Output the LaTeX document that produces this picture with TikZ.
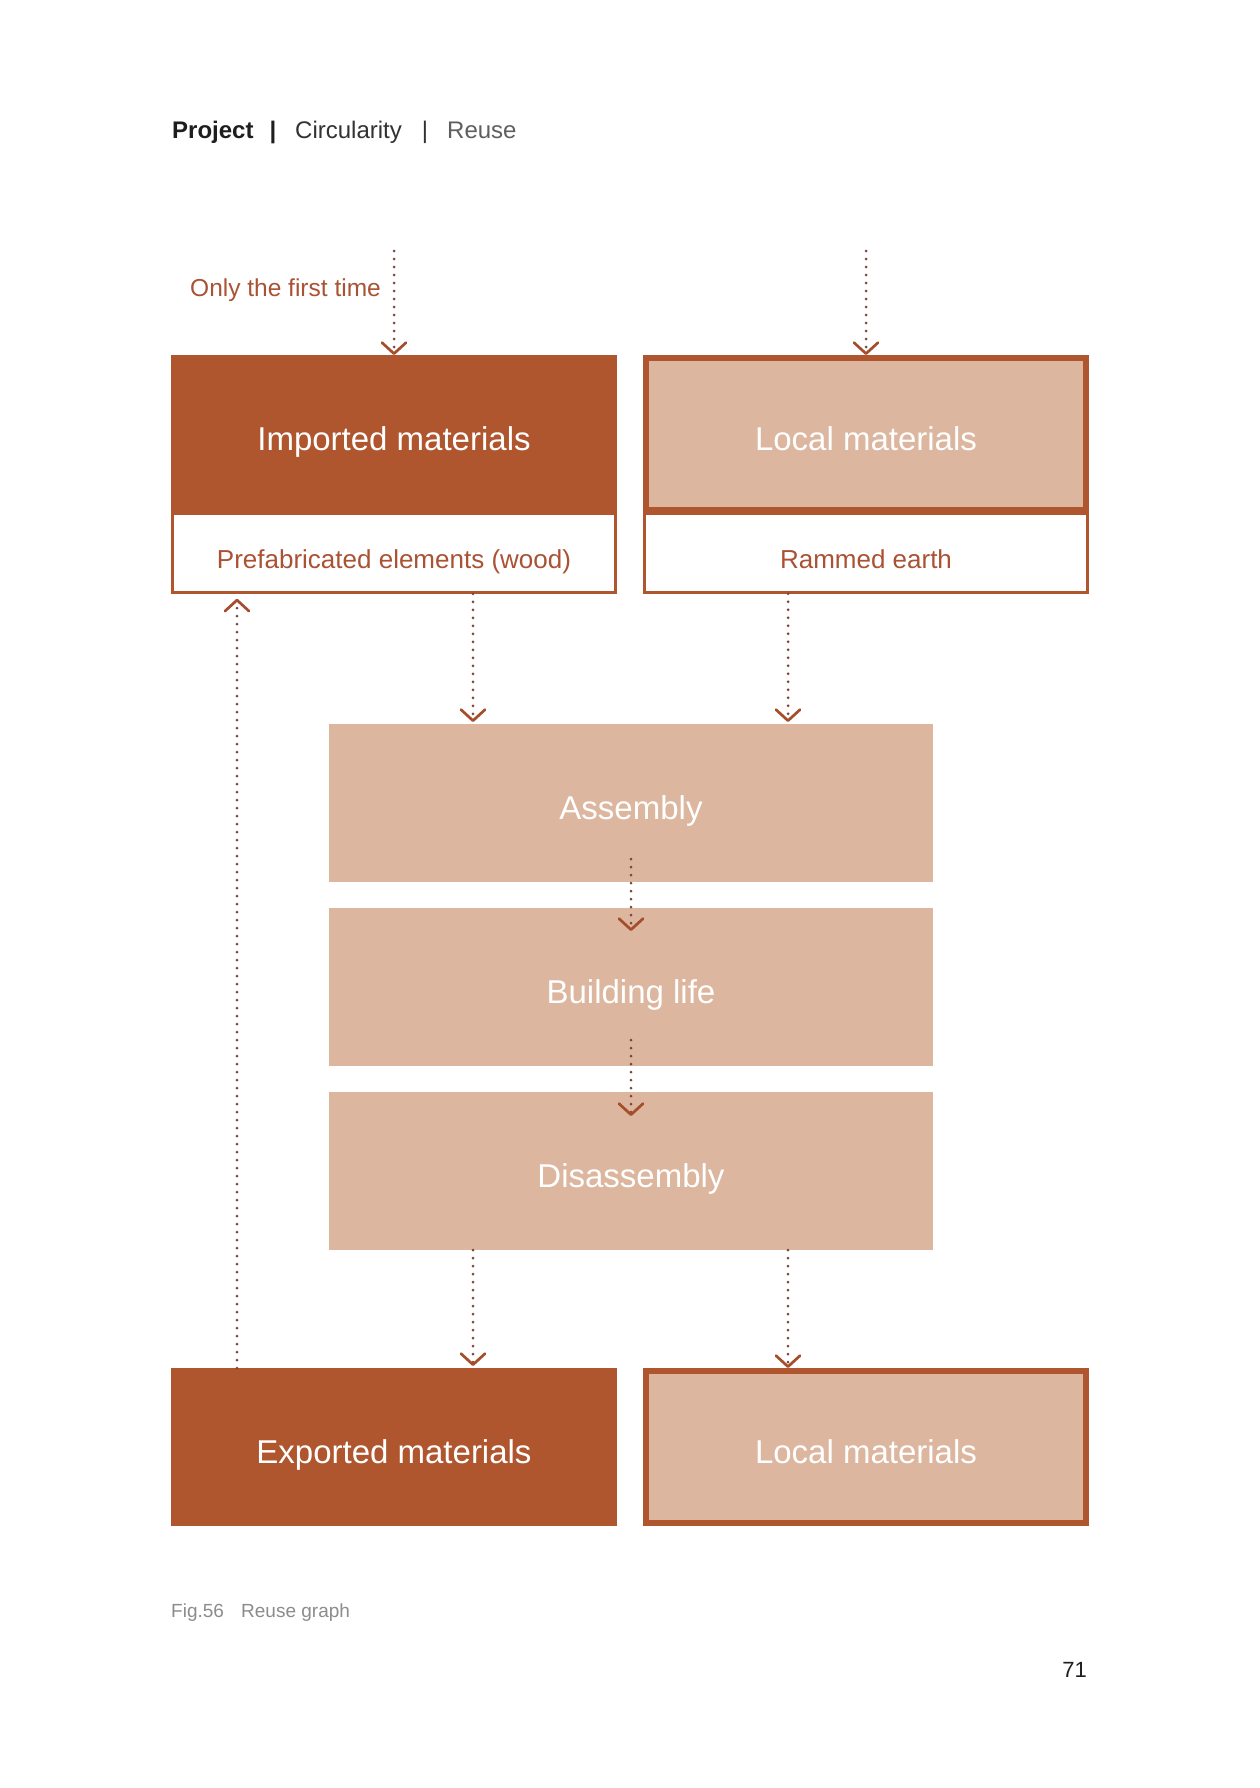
\documentclass[tikz,border=0pt]{standalone}
\usepackage{fontspec}
\setmainfont{Liberation Sans}
\usetikzlibrary{arrows.meta,calc}
\definecolor{rust}{RGB}{176,86,47}
\definecolor{sand}{RGB}{220,182,158}
\definecolor{dotc}{RGB}{125,70,60}
\definecolor{tipc}{RGB}{165,78,44}
\definecolor{labc}{RGB}{170,82,52}
\definecolor{hdrA}{RGB}{30,30,30}
\definecolor{hdrB}{RGB}{50,50,50}
\definecolor{hdrC}{RGB}{95,95,95}
\definecolor{capc}{RGB}{140,140,140}
\begin{document}
\begin{tikzpicture}[x=1pt,y=-1pt,
  darkbox/.style={fill=rust, draw=none, inner sep=0pt, outer sep=0pt, minimum width=446pt, minimum height=158pt},
  sandthick/.style={fill=sand, draw=rust, line width=6pt, inner sep=0pt, minimum width=440pt, minimum height=152pt},
  sandbox/.style={fill=sand, draw=none, inner sep=0pt, outer sep=0pt, minimum width=604pt, minimum height=158pt},
  subbox/.style={fill=white, draw=rust, line width=2.5pt, inner sep=0pt, minimum width=443pt, minimum height=79pt},
  mainlab/.style={anchor=base, text=white, font=\fontsize{33}{40}\selectfont, inner sep=0pt},
  sublab/.style={anchor=base, text=labc, font=\fontsize{26}{31}\selectfont, inner sep=0pt},
  hdr/.style={anchor=base west, inner sep=0pt, font=\fontsize{24}{29}\selectfont},
  flow/.style={draw=dotc, line width=3pt, line cap=round, dash pattern=on 0pt off 8pt,
    -{Straight Barb[length=11pt,width=24pt,line width=2.7pt,round,color=tipc]}}
]
\fill[white] (0,0) rectangle (1260,1788);
\useasboundingbox (0,0) rectangle (1260,1788);

% header
\node[hdr, text=hdrA, font=\bfseries\fontsize{24}{29}\selectfont] (h1) at (172,138) {Project};
\node[anchor=base, inner sep=0pt, text=hdrA, font=\bfseries\fontsize{24}{29}\selectfont] (h2) at (273,138) {|};
\node[hdr, text=hdrB] (h3) at (295,138) {Circularity};
\node[anchor=base, inner sep=0pt, text=hdrB, font=\fontsize{24}{29}\selectfont] (h4) at (425,138) {|};
\node[hdr, text=hdrC] (h5) at (447,138) {Reuse};

% top boxes
\node[subbox] (pre) at (394,553) {};
\node[darkbox] (imp) at (394,434) {};
\node[subbox] (ram) at (866,553) {};
\node[sandthick] (loc1) at (866,434) {};

% middle boxes
\node[sandbox] (asm) at (631,803) {};
\node[sandbox] (bl) at (631,987) {};
\node[sandbox] (dis) at (631,1171) {};

% bottom boxes
\node[darkbox] (exp) at (394,1447) {};
\node[sandthick] (loc2) at (866,1447) {};

% labels
\node[mainlab] (impT) at ($(imp.center)+(0,16)$) {Imported materials};
\node[mainlab] (loc1T) at ($(loc1.center)+(0,16)$) {Local materials};
\node[sublab] (preT) at ($(pre.center)+(0,15)$) {Prefabricated elements (wood)};
\node[sublab] (ramT) at ($(ram.center)+(0,15)$) {Rammed earth};
\node[mainlab] (asmT) at ($(asm.center)+(0,16)$) {Assembly};
\node[mainlab] (blT) at ($(bl.center)+(0,16)$) {Building life};
\node[mainlab] (disT) at ($(dis.center)+(0,16)$) {Disassembly};
\node[mainlab] (expT) at ($(exp.center)+(0,16)$) {Exported materials};
\node[mainlab] (loc2T) at ($(loc2.center)+(0,16)$) {Local materials};

\node[anchor=base east, inner sep=0pt, text=labc, font=\fontsize{24.5}{29}\selectfont] (note) at (381,296) {Only the first time};

% connectors
\coordinate (inL) at (394,251);
\coordinate (inR) at (866,251);
\draw[flow] (inL) -- (imp.north);
\draw[flow] (inR) -- (loc1.north);
\draw[flow] ($(pre.south)+(79,0)$) -- ($(asm.north)+(-158,-2)$);
\draw[flow] ($(ram.south)+(-78,0)$) -- ($(asm.north)+(157,-2)$);
\draw[flow] ($(asm.south)+(0,-23)$) -- ($(bl.north)+(0,23)$);
\draw[flow] ($(bl.south)+(0,-26)$) -- ($(dis.north)+(0,24)$);
\draw[flow] ($(dis.south)+(-158,0)$) -- ($(exp.north)+(79,-2)$);
\draw[flow] ($(dis.south)+(157,0)$) -- ($(loc2.north)+(-78,0)$);
\draw[flow] ($(exp.north)+(-157,0)$) -- ($(pre.south)+(-157,5)$);

% caption and page number
\node[hdr, text=capc, font=\fontsize{19}{23}\selectfont] (fig) at (171,1617) {Fig.56};
\node[hdr, text=capc, font=\fontsize{19}{23}\selectfont] (cap) at (241,1617) {Reuse graph};
\node[anchor=base east, inner sep=0pt, text=hdrA, font=\fontsize{22}{26}\selectfont] (pg) at (1087,1677) {71};
\end{tikzpicture}
\end{document}
